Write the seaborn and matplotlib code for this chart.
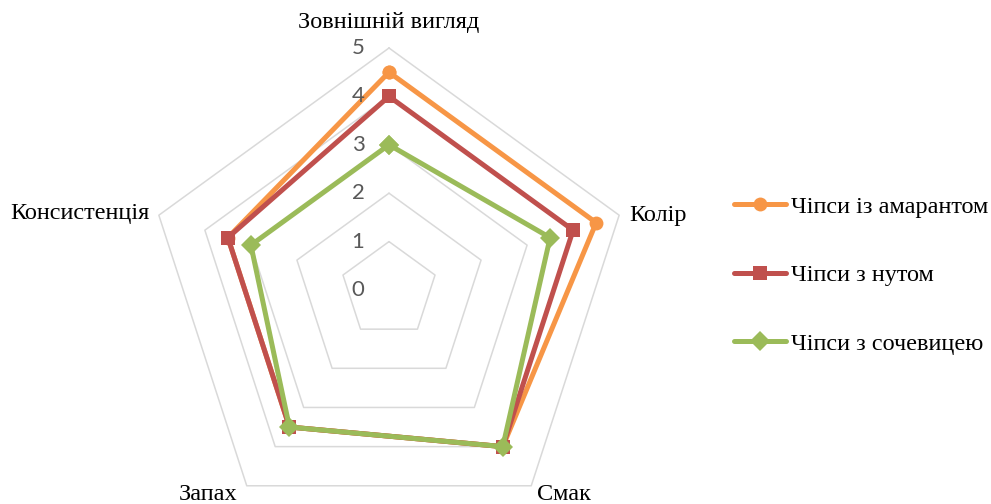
import numpy as np, pandas as pd
import matplotlib; matplotlib.use('Agg')
import matplotlib.pyplot as plt
from matplotlib.font_manager import FontProperties
import seaborn as sns

categories = ['Зовнішній вигляд', 'Колір', 'Смак', 'Запах', 'Консистенція']
series = ['Чіпси із амарантом', 'Чіпси з нутом', 'Чіпси з сочевицею']
amaranth = [4.5, 4.5, 4.0, 3.5, 3.5]
chickpea = [4.0, 4.0, 4.0, 3.5, 3.5]
lentil = [3.0, 3.5, 4.0, 3.5, 3.0]
levels = [0, 1, 2, 3, 4, 5]

colors = {'Чіпси із амарантом': '#F79646', 'Чіпси з нутом': '#C0504D', 'Чіпси з сочевицею': '#9BBB59'}
markers = {'Чіпси із амарантом': 'o', 'Чіпси з нутом': 's', 'Чіпси з сочевицею': 'D'}

sns.set_theme(style='white')
plt.rcParams['font.family'] = ['Liberation Serif', 'DejaVu Serif']
plt.rcParams['text.color'] = 'black'

angles = np.deg2rad(np.arange(len(categories)) * 360 / len(categories))
closed = np.append(angles, angles[0])

rows = []
for name, vals in zip(series, [amaranth, chickpea, lentil]):
    for i in list(range(len(vals))) + [0]:
        rows.append({'series': name, 'theta': angles[i], 'value': vals[i]})
df = pd.DataFrame(rows)

fig = plt.figure(figsize=(9.91, 5.04), dpi=100)
R = 242
cx, cy = 389, 504 - 290
ax = fig.add_axes([(cx - R) / 991, (cy - R) / 504, 2 * R / 991, 2 * R / 504], projection='polar')
ax.set_theta_zero_location('N')
ax.set_theta_direction(-1)
ax.set_ylim(0, 5)
ax.set_axis_off()

# pentagon grid
for lv in levels[1:]:
    ax.plot(closed, [lv] * len(closed), color='#D9D9D9', lw=1.1, clip_on=False, zorder=1)

sns.lineplot(data=df, x='theta', y='value', hue='series', style='series',
             hue_order=series, style_order=series, palette=colors, markers=markers,
             dashes=False, sort=False, estimator=None, units='series',
             linewidth=3.6, markersize=10, markeredgewidth=0, ax=ax, clip_on=False, zorder=3)

# value labels
for lv in levels:
    ax.annotate(str(lv), (0, lv), xytext=(-31, 0), textcoords='offset pixels',
                ha='center', va='center', fontsize=16, color='#595959', family='Lato')

# category labels
offs = [(0, 26, 'center'), (10, 0, 'left'), (6, -9, 'left'), (-9, -9, 'right'), (-9, 2, 'right')]
for ang, lab, (dx, dy, ha) in zip(angles, categories, offs):
    ax.annotate(lab, (ang, 5), xytext=(dx, dy), textcoords='offset pixels',
                ha=ha, va='center', fontsize=17.5, color='black')

sns.move_legend(ax, 'center left', bbox_to_anchor=(0.728, 0.454), bbox_transform=fig.transFigure,
                frameon=False, title=None, labelspacing=1.92, handlelength=2.15,
                handletextpad=0.2, borderpad=0, prop=FontProperties(family='Liberation Serif', size=17.5))

fig.savefig('out.png', dpi=100)
